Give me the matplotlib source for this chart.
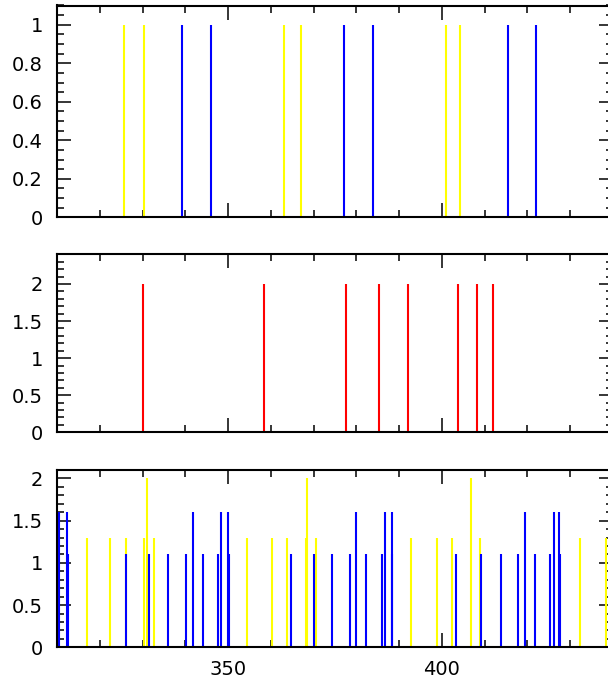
import matplotlib
matplotlib.use("Agg")
import matplotlib.pyplot as plt
from matplotlib.ticker import MultipleLocator, FormatStrFormatter
import numpy as np

plt.rcParams['font.family'] = ['DejaVu Sans']

# top panel: unit-height lines
top_yellow_x = [325.7, 330.4, 363.1, 367.0, 401.0, 404.2]
top_blue_x = [339.3, 346.0, 377.2, 383.8, 415.5, 422.0]
top_h = 1.0

# middle panel: red lines
mid_red_x = [330.1, 358.4, 377.5, 385.3, 392.0, 403.8, 408.3, 412.0]
mid_h = 2.0

# bottom panel
bot_yellow_x = [316.9, 322.4, 326.2, 330.3, 331.0, 332.7, 354.5, 360.3, 363.8,
                368.2, 368.5, 370.5, 392.8, 398.8, 402.3, 406.9, 409.0, 432.3, 438.4]
bot_yellow_h = [1.3, 1.3, 1.3, 1.3, 2.0, 1.3, 1.3, 1.3, 1.3,
                1.3, 2.0, 1.3, 1.3, 1.3, 1.3, 2.0, 1.3, 1.3, 1.3]
bot_blue_x = [310.4, 312.3, 312.6, 326.2, 331.5, 336.0, 340.2, 341.9, 344.1,
              347.6, 348.4, 350.0, 350.2, 364.6, 370.1, 374.3, 378.5, 379.9,
              382.3, 385.9, 386.8, 388.3, 388.4, 403.4, 409.1, 413.7, 417.9,
              419.4, 421.7, 425.2, 426.3, 427.4, 427.6]
bot_blue_h = [1.6, 1.6, 1.1, 1.1, 1.1, 1.1, 1.1, 1.6, 1.1,
              1.1, 1.6, 1.6, 1.1, 1.1, 1.1, 1.1, 1.1, 1.6,
              1.1, 1.1, 1.6, 1.6, 1.1, 1.1, 1.1, 1.1, 1.1,
              1.6, 1.1, 1.1, 1.6, 1.6, 1.1]

fig = plt.figure(figsize=(6.08, 6.8), dpi=100)
W = 556 / 608
ax1 = fig.add_axes([57 / 608, 1 - 217.3 / 680, W, 211.8 / 680])
ax2 = fig.add_axes([57 / 608, 1 - 432.3 / 680, W, 178 / 680])
ax3 = fig.add_axes([57 / 608, 1 - 647.3 / 680, W, 177.3 / 680])

lw = 1.5
ax1.vlines(top_yellow_x, 0, top_h, colors='#ffff00', lw=lw)
ax1.vlines(top_blue_x, 0, top_h, colors='#0000ff', lw=lw)
ax2.vlines(mid_red_x, 0, mid_h, colors='#ff0000', lw=lw)
ax3.vlines(bot_yellow_x, 0, bot_yellow_h, colors='#ffff00', lw=lw)
ax3.vlines(bot_blue_x, 0, bot_blue_h, colors='#0000ff', lw=lw)

ax1.set_ylim(0, 1.1)
ax2.set_ylim(0, 2.4)
ax3.set_ylim(0, 2.1)
ax1.yaxis.set_major_locator(MultipleLocator(0.2))
ax1.yaxis.set_minor_locator(MultipleLocator(0.05))
for ax in (ax2, ax3):
    ax.yaxis.set_major_locator(MultipleLocator(0.5))
    ax.yaxis.set_minor_locator(MultipleLocator(0.1))

for ax in (ax1, ax2, ax3):
    ax.set_xlim(310, 440)
    ax.xaxis.set_major_locator(MultipleLocator(50))
    ax.xaxis.set_minor_locator(MultipleLocator(10))
    ax.yaxis.set_major_formatter(FormatStrFormatter('%g'))
    for s in ax.spines.values():
        s.set_linewidth(1.5)
    ax.tick_params(which='both', direction='in', top=True, right=True,
                   width=1.1, labelsize=14)
    ax.tick_params(which='major', length=10)
    ax.tick_params(which='minor', length=5)
    ax.tick_params(axis='y', pad=10)
    ax.tick_params(axis='x', pad=9)
    if ax is not ax3:
        ax.tick_params(labelbottom=False)

fig.savefig("out.png", dpi=100)
